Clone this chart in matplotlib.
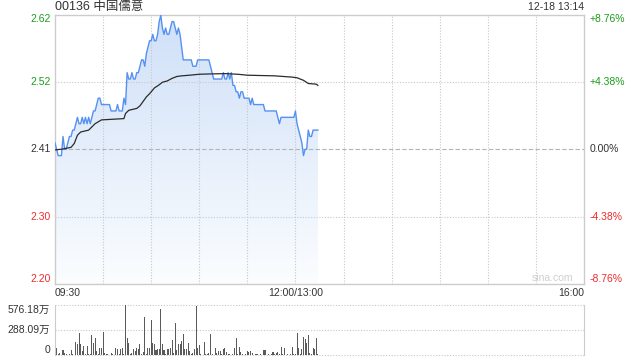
import numpy as np
import matplotlib.pyplot as plt
from matplotlib.patches import Polygon
from matplotlib.colors import LinearSegmentedColormap

plt.rcParams['font.family'] = ['Liberation Sans', 'Noto Sans CJK SC', 'DejaVu Sans']

title = '00136 中国儒意'
stamp = '12-18 13:14'
prev_close = 2.41
pct_levels = [0.0876, 0.0438, 0.0, -0.0438, -0.0876]
total_min = 330            # 09:30-12:00 + 13:00-16:00
time_ticks = [0, 150, 330]
time_labels = ['09:30', '12:00/13:00', '16:00']
vol_max = 576.18           # 万

# minute close, 09:30 .. 13:14
price = [2.42, 2.41, 2.40, 2.40, 2.40, 2.43, 2.41, 2.41, 2.42, 2.43,
         2.43, 2.44, 2.44, 2.45, 2.46, 2.45, 2.45, 2.46, 2.45, 2.46,
         2.45, 2.46, 2.45, 2.46, 2.47, 2.47, 2.48, 2.49, 2.49, 2.48,
         2.48, 2.48, 2.48, 2.48, 2.48, 2.47, 2.47, 2.47, 2.47, 2.48,
         2.47, 2.47, 2.47, 2.49, 2.48, 2.53, 2.52, 2.52, 2.53, 2.52,
         2.52, 2.53, 2.53, 2.54, 2.55, 2.55, 2.54, 2.56, 2.57, 2.58,
         2.58, 2.59, 2.58, 2.58, 2.59, 2.61, 2.62, 2.60, 2.59, 2.60,
         2.59, 2.59, 2.60, 2.61, 2.61, 2.60, 2.59, 2.60, 2.59, 2.57,
         2.55, 2.55, 2.55, 2.55, 2.55, 2.55, 2.54, 2.54, 2.54, 2.55,
         2.55, 2.55, 2.55, 2.55, 2.55, 2.55, 2.55, 2.54, 2.53, 2.52,
         2.52, 2.52, 2.52, 2.52, 2.52, 2.53, 2.52, 2.52, 2.53, 2.52,
         2.53, 2.51, 2.51, 2.50, 2.50, 2.49, 2.50, 2.50, 2.49, 2.49,
         2.49, 2.49, 2.48, 2.49, 2.48, 2.48, 2.48, 2.48, 2.48, 2.48,
         2.48, 2.47, 2.47, 2.47, 2.47, 2.47, 2.47, 2.47, 2.47, 2.46,
         2.45, 2.46, 2.46, 2.46, 2.46, 2.46, 2.46, 2.46, 2.46, 2.46,
         2.47, 2.45, 2.44, 2.43, 2.42, 2.40, 2.41, 2.41, 2.44, 2.43,
         2.43, 2.44, 2.44, 2.44, 2.44]

# average price line, read at its turning points
avg_min = [0, 4, 7, 10, 12, 14, 16, 21, 23, 25, 29, 43, 44, 46, 51, 53, 55, 57, 59,
           62, 65, 67, 70, 73, 76, 79, 84, 90, 97, 106, 114, 120, 137, 148, 151,
           155, 158, 163, 164]
avg_price = [2.409, 2.410, 2.4115, 2.413, 2.419, 2.432, 2.437, 2.440, 2.445, 2.450,
             2.456, 2.458, 2.466, 2.471, 2.474, 2.478, 2.485, 2.492, 2.497,
             2.506, 2.511, 2.515, 2.517, 2.521, 2.524, 2.525, 2.526, 2.5275, 2.528,
             2.5285, 2.5275, 2.526, 2.525, 2.523, 2.522, 2.518, 2.513, 2.512, 2.510]

# minute volume, 万
volume = [10, 84, 15, 27, 5, 57, 27, 15, 5, 15,
          57, 15, 5, 153, 130, 256, 130, 46, 103, 15,
          103, 15, 8, 229, 141, 191, 46, 10, 76, 76,
          267, 27, 8, 8, 5, 27, 15, 5, 76, 65,
          15, 65, 76, 15, 576, 199, 141, 10, 27, 65,
          46, 84, 65, 130, 8, 38, 428, 10, 84, 76,
          397, 141, 130, 53, 65, 65, 523, 122, 53, 10,
          65, 65, 76, 168, 27, 363, 53, 130, 122, 160,
          237, 65, 65, 141, 46, 8, 27, 65, 561, 84,
          115, 15, 5, 153, 8, 15, 27, 244, 15, 5,
          84, 27, 46, 46, 8, 65, 76, 38, 15, 15,
          5, 8, 84, 199, 10, 92, 38, 15, 5, 8,
          46, 38, 46, 27, 5, 15, 15, 5, 15, 5,
          53, 53, 5, 15, 5, 15, 38, 8, 27, 38,
          10, 92, 8, 76, 5, 15, 5, 15, 92, 8,
          15, 256, 84, 10, 65, 206, 179, 141, 229, 27,
          8, 76, 65, 191, 10]

green = '#1a9e1a'
red = '#ee2c2c'
grid_c = '#c8c8c8'
text_c = '#333333'

W, H = 640, 360
fig = plt.figure(figsize=(W / 100, H / 100), dpi=100)


def box(x0, y0, x1, y1):
    # pixel box -> figure fraction
    return [x0 / W, 1 - y1 / H, (x1 - x0) / W, (y1 - y0) / H]


ax = fig.add_axes(box(55, 14.5, 584, 284))
axv = fig.add_axes(box(55, 304.5, 584, 355))

lo = prev_close * (1 + pct_levels[-1])
hi = prev_close * (1 + pct_levels[0])
t = np.arange(len(price))

# gradient area under the price line
grad = np.linspace(0, 1, 256).reshape(-1, 1)
cmap = LinearSegmentedColormap.from_list('fill', ['#fbfdff', '#cfe0f8'])
im = ax.imshow(grad, extent=[0, t[-1], lo, hi], origin='lower', aspect='auto',
               cmap=cmap, zorder=1, interpolation='bilinear')
poly = Polygon(np.column_stack([np.r_[t, t[-1], 0], np.r_[price, lo, lo]]),
               closed=True, facecolor='none', edgecolor='none')
ax.add_patch(poly)
im.set_clip_path(poly)

ax.plot(t, price, color='#5591f3', lw=1.0, zorder=3)
ax.plot(avg_min, avg_price, color='#2b2b2b', lw=0.9, zorder=4)

ax.set_xlim(0, total_min)
ax.set_ylim(lo, hi)
ax.set_xticks([])
ax.set_yticks([])
for s in ax.spines.values():
    s.set_color('#cccccc')
    s.set_linewidth(1)

# grid
for p in pct_levels[1:-1]:
    if p == 0:
        ax.axhline(prev_close, color='#b4b4b4', lw=0.8, ls=(0, (4, 2)), zorder=2)
    else:
        ax.axhline(prev_close * (1 + p), color=grid_c, lw=0.8, ls=(0, (1, 1.5)), zorder=2)
for m in range(30, total_min, 30):
    ax.axvline(m, color=grid_c, lw=0.8, ls=(0, (1, 1.5)), zorder=2)

# price / percent labels
ytr = ax.get_yaxis_transform()
for i, p in enumerate(pct_levels):
    c = green if p > 0 else (red if p < 0 else text_c)
    va = 'top' if i == 0 else ('bottom' if i == len(pct_levels) - 1 else 'center')
    v = prev_close * (1 + p)
    ax.text(-4 / 529, v, f'{v:.2f}', ha='right', va=va, color=c, fontsize=7.5, transform=ytr)
    lab = f'{p * 100:+.2f}%' if p != 0 else '0.00%'
    ax.text(1 + 6 / 529, v, lab, ha='left', va=va, color=c, fontsize=7.5, transform=ytr)

# time labels
xtr = ax.get_xaxis_transform()
for m, lab in zip(time_ticks, time_labels):
    ha = 'left' if m == 0 else ('right' if m == total_min else 'center')
    ax.text(m, -9 / 270, lab, ha=ha, va='center', color=text_c, fontsize=7.5, transform=xtr)

ax.text(0.98, 0.022, 'sina.com', ha='right', va='center', color='#cfcfcf',
        fontsize=7.5, transform=ax.transAxes)

fig.text(55 / W, 1 - 7 / H, title, ha='left', va='center', color=text_c, fontsize=9)
fig.text(584 / W, 1 - 7 / H, stamp, ha='right', va='center', color=text_c, fontsize=7.5)

# volume panel
axv.bar(t, volume, width=0.65, color='#5a5a5a', linewidth=0, antialiased=False)
axv.set_xlim(0, total_min)
axv.set_ylim(0, vol_max)
axv.set_xticks([])
axv.set_yticks([])
for k in ['top', 'bottom']:
    axv.spines[k].set_visible(False)
for k in ['left', 'right']:
    axv.spines[k].set_color('#cccccc')
for v in [vol_max, vol_max / 2, 0]:
    axv.axhline(v, color=grid_c, lw=0.8, ls=(0, (1, 1.5)), clip_on=False, zorder=0)

vtr = axv.get_yaxis_transform()
axv.text(-5 / 529, vol_max, f'{vol_max:.2f}万', ha='right', va='top', color=text_c, fontsize=7.5, transform=vtr)
axv.text(-5 / 529, vol_max / 2, f'{vol_max / 2:.2f}万', ha='right', va='center', color=text_c, fontsize=7.5, transform=vtr)
axv.text(-5 / 529, 0, '0', ha='right', va='bottom', color=text_c, fontsize=7.5, transform=vtr)

fig.savefig('out.png', dpi=100)
